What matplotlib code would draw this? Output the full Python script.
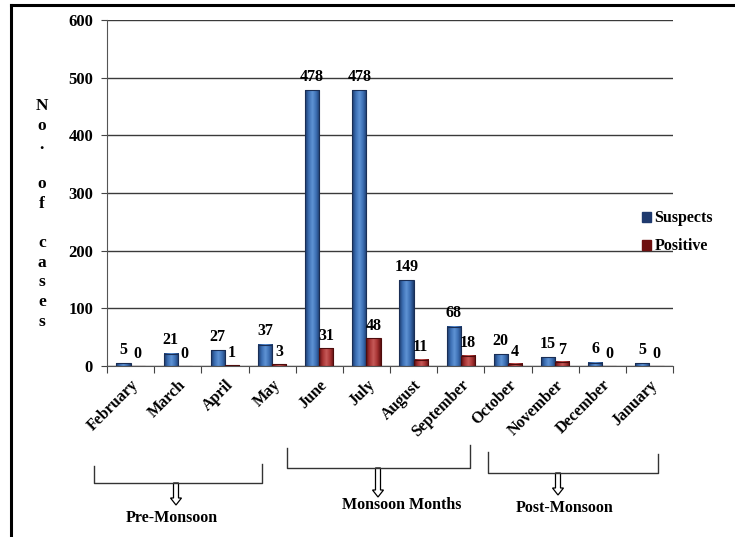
"""
Monthly suspects vs positive cases, bar chart with season brackets
"""
import matplotlib
matplotlib.use("Agg")
import matplotlib.pyplot as plt
from matplotlib.colors import LinearSegmentedColormap
from matplotlib.patches import FancyArrow, Patch
import numpy as np


# data
months = ["February", "March", "April", "May", "June", "July", "August",
          "September", "October", "November", "December", "January"]
suspects = [5, 21, 27, 37, 478, 478, 149, 68, 20, 15, 6, 5]
positive = [0, 0, 1, 3, 31, 48, 11, 18, 4, 7, 0, 0]
y_ticks = [0, 100, 200, 300, 400, 500, 600]

seasons = ["Pre-Monsoon", "Monsoon Months", "Post-Monsoon"]

plt.rcParams['font.family'] = ['Liberation Serif', 'DejaVu Serif']
plt.rcParams['font.weight'] = 'bold'

W, H = 735, 537
fig = plt.figure(figsize=(W / 100, H / 100), dpi=100)

# chart axes placed in pixel terms
ax_l, ax_r, ax_t, ax_b = 107, 673, 20, 366
ax = fig.add_axes([ax_l / W, 1 - ax_b / H, (ax_r - ax_l) / W, (ax_b - ax_t) / H])

x = np.arange(len(months))
w = 0.3

blue_cmap = LinearSegmentedColormap.from_list(
    "b", ["#1b3a6b", "#3c6fb4", "#5f93d4", "#3c6fb4", "#1b3a6b"])
red_cmap = LinearSegmentedColormap.from_list(
    "r", ["#5e0f10", "#a83434", "#c65a58", "#a83434", "#5e0f10"])
grad = np.linspace(0, 1, 64).reshape(1, -1)

bars_s = ax.bar(x - w / 2, suspects, w, facecolor='none',
                edgecolor='#1a2e55', linewidth=0.8, zorder=3)
bars_p = ax.bar(x + w / 2, positive, w, facecolor='none',
                edgecolor='#4e0c0c', linewidth=0.8, zorder=3)

# gradient fill inside each bar
for bars, cmap in [(bars_s, blue_cmap), (bars_p, red_cmap)]:
    for b in bars:
        h = b.get_height()
        if h <= 0:
            continue
        x0 = b.get_x()
        ax.imshow(grad, cmap=cmap, aspect='auto', zorder=2.5,
                  extent=[x0, x0 + b.get_width(), 0, h])

# value labels
for xi, v in zip(x, suspects):
    ax.annotate(str(v), (xi - w / 2, v), xytext=(0, 4), textcoords='offset points',
                ha='center', va='bottom', fontsize=11.5, fontweight='bold')
for xi, v in zip(x, positive):
    ax.annotate(str(v), (xi + w / 2, v), xytext=(0, 3), textcoords='offset points',
                ha='center', va='bottom', fontsize=11.5, fontweight='bold')

ax.set_xlim(-0.5, len(months) - 0.5)
ax.set_ylim(0, 600)
ax.set_yticks(y_ticks)
ax.set_yticklabels([str(t) for t in y_ticks], fontsize=12, fontweight='bold')
ax.yaxis.grid(True, color='#3a3a3a', linewidth=1.0, zorder=0)
ax.set_axisbelow(True)

# ticks at category boundaries, labels at centres
ax.set_xticks(np.arange(-0.5, len(months), 1.0))
ax.set_xticklabels([])
ax.set_xticks(x, minor=True)
ax.set_xticklabels(months, minor=True, rotation=45, ha='right',
                   rotation_mode='anchor', fontsize=11.5, fontweight='bold')
ax.tick_params(axis='x', which='major', length=5, color='#444444')
ax.tick_params(axis='x', which='minor', length=0, pad=8)
ax.tick_params(axis='y', length=4, color='#444444', pad=6)

for s in ['top', 'right']:
    ax.spines[s].set_visible(False)
ax.spines['left'].set_color('#555555')
ax.spines['bottom'].set_color('#555555')

# y label, one letter per line
ax.text(-0.115, 0.44, "N\no\n.\n\no\nf\n\nc\na\ns\ne\ns", transform=ax.transAxes,
        ha='center', va='center', fontsize=12.5, fontweight='bold', linespacing=1.3)

handles = [Patch(facecolor='#1f3a6e', edgecolor='#1f3a6e'),
           Patch(facecolor='#6e1010', edgecolor='#6e1010')]
fig.legend(handles, ["Suspects", "Positive"], loc='upper left',
           bbox_to_anchor=(628 / W, 1 - 196 / H), frameon=False,
           handlelength=0.55, handleheight=0.55, handletextpad=0.2,
           labelspacing=0.75, prop={'size': 11.5, 'weight': 'bold'})

# overlay in pixel coordinates for frame and season brackets
ov = fig.add_axes([0, 0, 1, 1], zorder=-1)
ov.set_xlim(0, W)
ov.set_ylim(H, 0)
ov.axis('off')

ov.plot([11, W], [5, 5], color='black', lw=2.2)
ov.plot([11, 11], [5, H], color='black', lw=2.2)

brackets = [
    # left x, left top, right x, right top, bottom y, arrow x, arrow end, text x, text y
    (94, 466, 262, 464, 483, 176, 505, 172, 518),
    (287, 448, 470, 445, 468, 378, 497, 402, 505),
    (488, 452, 658, 454, 473, 558, 495, 565, 508),
]
for (lx, lt, rx, rt, by, axx, aend, tx, ty), name in zip(brackets, seasons):
    ov.plot([lx, lx, rx, rx], [lt, by, by, rt], color='#333333', lw=1.0)
    ov.add_patch(FancyArrow(axx, by, 0, aend - by, width=5, head_width=11,
                            head_length=7, length_includes_head=True,
                            facecolor='white', edgecolor='black', lw=0.9))
    ov.text(tx, ty, name, ha='center', va='center', fontsize=11.5, fontweight='bold')

fig.savefig("out.png", dpi=100)
